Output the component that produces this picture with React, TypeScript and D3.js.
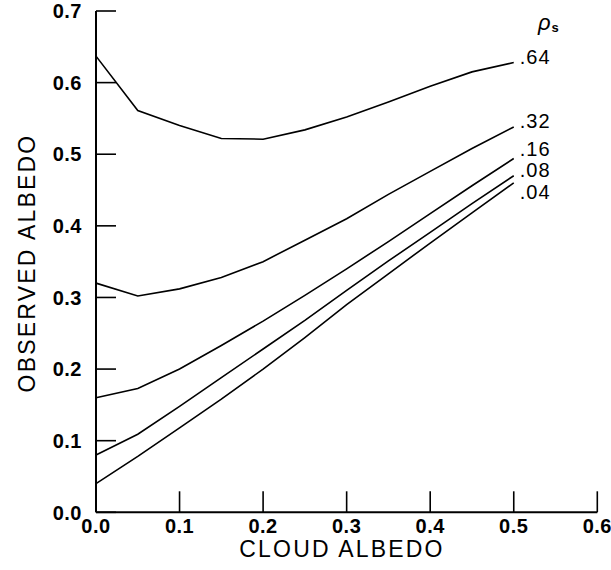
import React from "react";
import * as d3 from "d3";

const cloudAlbedo = [0, 0.05, 0.1, 0.15, 0.2, 0.25, 0.3, 0.35, 0.4, 0.45, 0.5];
const seriesNames = [".64", ".32", ".16", ".08", ".04"];
const s64 = [0.637, 0.561, 0.54, 0.522, 0.521, 0.534, 0.552, 0.573, 0.595, 0.615, 0.628];
const s32 = [0.32, 0.302, 0.312, 0.328, 0.35, 0.38, 0.41, 0.444, 0.476, 0.508, 0.538];
const s16 = [0.16, 0.173, 0.2, 0.233, 0.267, 0.303, 0.34, 0.378, 0.417, 0.456, 0.494];
const s08 = [0.08, 0.109, 0.148, 0.188, 0.228, 0.268, 0.31, 0.351, 0.391, 0.431, 0.47];
const s04 = [0.04, 0.078, 0.118, 0.158, 0.2, 0.244, 0.29, 0.333, 0.376, 0.418, 0.46];
const labelValues = [0.636, 0.547, 0.507, 0.478, 0.448];
const xTicks = [0, 0.1, 0.2, 0.3, 0.4, 0.5, 0.6];
const yTicks = [0, 0.1, 0.2, 0.3, 0.4, 0.5, 0.6, 0.7];

const W = 611;
const H = 570;

export default function App() {
  const x = d3.scaleLinear().domain([0, 0.6]).range([96, 597.3]);
  const y = d3.scaleLinear().domain([0, 0.7]).range([512.3, 11]);
  const allSeries = [s64, s32, s16, s08, s04];
  const line = d3
    .line<number>()
    .x((_, i) => x(cloudAlbedo[i]))
    .y((d) => y(d));
  const tickFont = "'Liberation Sans', Arial, sans-serif";
  return (
    <svg
      width={W}
      height={H}
      style={{ position: "absolute", left: 0, top: 0, background: "#fff" }}
    >
      {/* axes */}
      <line x1={x(0)} x2={x(0)} y1={y(0.7)} y2={y(0)} stroke="#000" strokeWidth={2} />
      <line x1={x(0)} x2={x(0.6)} y1={y(0)} y2={y(0)} stroke="#000" strokeWidth={2} />
      {yTicks.map((t) => (
        <g key={"y" + t}>
          <line x1={x(0)} x2={x(0) + 20} y1={y(t)} y2={y(t)} stroke="#000" strokeWidth={1.6} />
          <text
            x={82}
            y={y(t)}
            dy="0.36em"
            textAnchor="end"
            fontFamily={tickFont}
            fontWeight="bold"
            fontSize={20}
            letterSpacing={0.5}
          >
            {t.toFixed(1)}
          </text>
        </g>
      ))}
      {xTicks.map((t) => (
        <g key={"x" + t}>
          <line x1={x(t)} x2={x(t)} y1={y(0)} y2={y(0) - 21} stroke="#000" strokeWidth={1.6} />
          <text
            x={x(t)}
            y={533}
            textAnchor="middle"
            fontFamily={tickFont}
            fontWeight="bold"
            fontSize={20}
            letterSpacing={0.5}
          >
            {t.toFixed(1)}
          </text>
        </g>
      ))}
      <text
        x={342}
        y={557}
        textAnchor="middle"
        fontFamily={tickFont}
        fontSize={23}
        letterSpacing={2.2}
      >
        CLOUD ALBEDO
      </text>
      <text
        transform={`translate(35, 263) rotate(-90)`}
        textAnchor="middle"
        fontFamily={tickFont}
        fontSize={23}
        letterSpacing={2.2}
      >
        OBSERVED ALBEDO
      </text>
      {allSeries.map((s, i) => (
        <path key={i} d={line(s) || ""} fill="none" stroke="#000" strokeWidth={1.6} />
      ))}
      {seriesNames.map((n, i) => (
        <text
          key={n}
          x={x(0.5) + 6}
          y={y(labelValues[i])}
          dy="0.36em"
          fontFamily={tickFont}
          fontSize={20}
          letterSpacing={1}
        >
          {n}
        </text>
      ))}
      <text x={538} y={30} fontFamily={tickFont} fontSize={22} fontStyle="italic">
        ρ
        <tspan fontSize={13} dx={1} dy={2} fontStyle="normal" fontWeight="bold">
          s
        </tspan>
      </text>
    </svg>
  );
}
